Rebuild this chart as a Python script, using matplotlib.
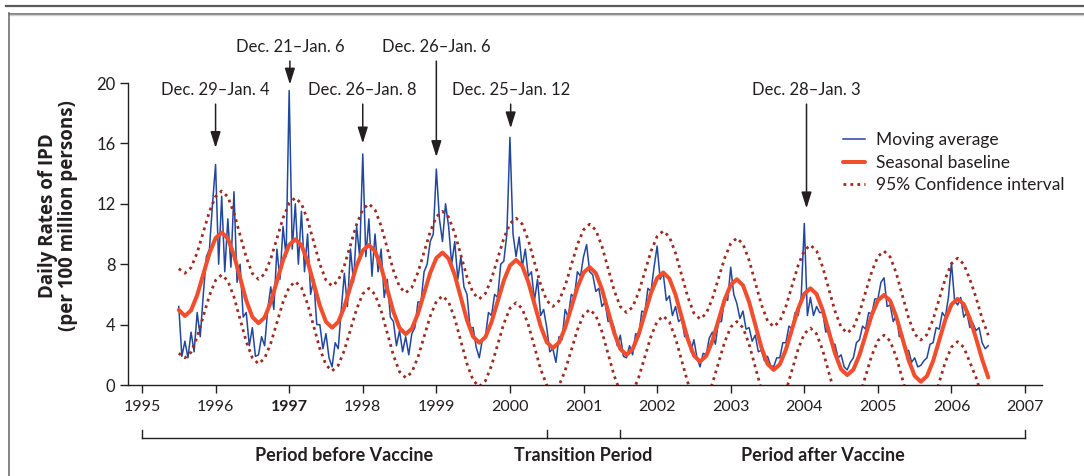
import numpy as np
import matplotlib
matplotlib.use("Agg")
import matplotlib.pyplot as plt
from matplotlib.lines import Line2D

# ---- palette ---------------------------------------------------------------
BLUE = "#22479e"
RED = "#f04e2c"
DOT = "#9d2b1f"
INK = "#231f20"

SANS = ["Lato", "DejaVu Sans"]
LABEL = ["Open Sans", "DejaVu Sans"]

# ---- data ------------------------------------------------------------------
# moving average, half-month readings, one row per season (Jul..Jun)
ma_1995 = [5.2, 1.9, 2.9, 1.8, 3.5, 2.2, 4.8, 3.2, 6.0, 8.5, 9.0, 12.0,
           14.6, 8.0, 12.5, 7.5, 11.0, 7.8, 12.8, 6.8, 8.0, 4.5, 4.8, 2.6]
ma_1996 = [3.8, 1.9, 2.0, 3.2, 2.6, 5.0, 6.5, 5.0, 9.0, 7.0, 10.5, 8.5,
           19.5, 9.0, 12.0, 8.0, 11.5, 7.5, 10.0, 6.0, 7.0, 4.0, 4.0, 2.4]
ma_1997 = [3.4, 1.8, 1.2, 2.8, 2.4, 5.0, 7.4, 5.2, 9.0, 6.8, 10.5, 8.5,
           15.3, 8.5, 11.0, 7.2, 10.0, 7.5, 9.0, 5.8, 7.0, 4.5, 4.2, 2.6]
ma_1998 = [3.6, 2.2, 3.2, 2.0, 3.4, 3.8, 5.5, 5.5, 7.5, 8.0, 9.5, 10.0,
           14.3, 11.0, 9.5, 12.0, 10.5, 8.0, 9.5, 7.0, 8.5, 6.5, 6.0, 3.8]
ma_1999 = [3.8, 2.5, 1.8, 3.0, 3.2, 4.8, 4.6, 6.0, 5.8, 8.0, 8.2, 10.0,
           16.4, 10.0, 8.5, 9.8, 7.8, 9.0, 7.2, 7.5, 5.6, 7.0, 4.6, 5.0]
ma_2000 = [3.8, 2.2, 2.4, 1.5, 3.2, 3.0, 5.0, 4.5, 6.0, 5.8, 7.5, 7.2,
           8.5, 9.3, 7.5, 7.3, 6.2, 6.4, 5.2, 5.5, 4.2, 4.3, 3.8, 2.6]
ma_2001 = [3.3, 1.9, 1.8, 2.6, 2.0, 3.4, 3.2, 4.9, 4.8, 6.4, 6.2, 7.8,
           9.2, 7.0, 7.4, 5.6, 5.9, 4.6, 5.2, 4.2, 4.4, 3.2, 3.3, 2.2]
ma_2002 = [3.0, 1.8, 1.2, 2.1, 2.0, 3.1, 3.5, 2.7, 4.2, 4.2, 5.8, 5.6,
           7.8, 6.0, 5.4, 4.4, 4.9, 3.7, 3.8, 2.9, 3.3, 2.2, 2.3, 1.6]
ma_2003 = [1.9, 1.3, 1.2, 1.8, 1.8, 2.8, 2.8, 3.9, 3.7, 4.8, 4.6, 5.9,
           10.7, 4.6, 5.8, 4.6, 5.2, 4.8, 4.8, 3.5, 3.8, 2.7, 2.7, 1.8]
ma_2004 = [2.0, 1.2, 1.0, 1.5, 1.8, 2.8, 3.0, 3.9, 3.7, 4.8, 4.7, 5.7,
           5.7, 6.8, 7.1, 5.2, 5.3, 4.2, 4.6, 3.2, 3.3, 2.2, 2.3, 1.5]
ma_2005 = [1.8, 1.2, 1.3, 1.6, 1.8, 2.7, 2.8, 3.8, 3.7, 4.8, 4.5, 5.8,
           8.1, 5.6, 5.3, 5.8, 4.5, 4.8, 3.8, 4.1, 3.6, 3.8, 2.8, 2.4]
ma_end = [2.6]

# seasonal baseline, monthly from Jul 1995 to Jul 2006
baseline = [4.97, 4.57, 4.94, 5.95, 7.34, 8.72,
            9.73, 10.1, 9.70, 8.6, 7.1, 5.6, 4.5, 4.1, 4.47, 5.49, 6.88, 8.26,
            9.28, 9.65, 9.26, 8.19, 6.73, 5.26, 4.19, 3.8, 4.17, 5.17, 6.54, 7.90,
            8.90, 9.27, 8.87, 7.8, 6.32, 4.85, 3.77, 3.37, 3.73, 4.72, 6.07, 7.42,
            8.41, 8.77, 8.37, 7.28, 5.79, 4.29, 3.2, 2.8, 3.17, 4.17, 5.54, 6.91,
            7.91, 8.28, 7.89, 6.82, 5.37, 3.91, 2.84, 2.45, 2.81, 3.79, 5.13, 6.46,
            7.44, 7.8, 7.41, 6.35, 4.9, 3.45, 2.39, 2.0, 2.37, 3.36, 4.73, 6.09,
            7.08, 7.45, 7.05, 5.98, 4.5, 3.03, 1.95, 1.55, 1.92, 2.91, 4.28, 5.64,
            6.63, 7.0, 6.6, 5.5, 4.0, 2.5, 1.4, 1.0, 1.36, 2.35, 3.7, 5.05,
            6.04, 6.4, 6.02, 4.96, 3.53, 2.1, 1.04, 0.66, 1.02, 1.99, 3.31, 4.64,
            5.6, 5.96, 5.58, 4.52, 3.09, 1.66, 0.6, 0.22, 0.59, 1.59, 2.96, 4.33,
            5.33, 5.7, 5.35, 4.4, 3.1, 1.7, 0.5]

ci_upper = [7.7, 7.4, 7.77, 8.76, 10.13, 11.49,
            12.48, 12.85, 12.46, 11.39, 9.93, 8.46, 7.39, 7.0, 7.36, 8.35, 9.7, 11.05,
            12.04, 12.4, 12.01, 10.94, 9.48, 8.01, 6.94, 6.55, 6.92, 7.91, 9.28, 10.64,
            11.63, 12.0, 11.6, 10.53, 9.05, 7.58, 6.5, 6.1, 6.46, 7.45, 8.8, 10.15,
            11.14, 11.5, 11.11, 10.05, 8.6, 7.15, 6.09, 5.7, 6.06, 7.04, 8.38, 9.71,
            10.69, 11.05, 10.66, 9.59, 8.13, 6.66, 5.59, 5.2, 5.57, 6.56, 7.93, 9.29,
            10.28, 10.65, 10.26, 9.19, 7.73, 6.26, 5.19, 4.8, 5.16, 6.15, 7.5, 8.85,
            9.84, 10.2, 9.81, 8.74, 7.29, 5.83, 4.76, 4.37, 4.73, 5.71, 7.05, 8.39,
            9.37, 9.73, 9.34, 8.26, 6.8, 5.33, 4.25, 3.86, 4.22, 5.21, 6.57, 7.92,
            8.91, 9.27, 8.88, 7.81, 6.36, 4.9, 3.83, 3.44, 3.8, 4.8, 6.16, 7.51,
            8.51, 8.87, 8.48, 7.4, 5.93, 4.45, 3.37, 2.98, 3.34, 4.34, 5.69, 7.05,
            8.04, 8.4, 8.0, 7.0, 5.8, 4.4, 3.3]

ci_lower = [2.1, 1.8, 2.17, 3.18, 4.55, 5.93,
            6.93, 7.3, 6.9, 5.83, 4.35, 2.88, 1.8, 1.4, 1.77, 2.76, 4.13, 5.49,
            6.48, 6.85, 6.45, 5.37, 3.89, 2.41, 1.33, 0.93, 1.3, 2.3, 3.67, 5.03,
            6.03, 6.4, 6.0, 4.92, 3.44, 1.96, 0.88, 0.48, 0.84, 1.84, 3.19, 4.55,
            5.54, 5.9, 5.5, 4.4, 2.9, 1.4, 0.3, -0.1, 0.27, 1.29, 2.68, 4.06,
            5.08, 5.45, 5.06, 3.99, 2.53, 1.06, -0.01, -0.4, -0.04, 0.95, 2.3, 3.65,
            4.64, 5.0, 4.61, 3.54, 2.08, 0.61, -0.46, -0.85, -0.49, 0.51, 1.86, 3.22,
            4.21, 4.57, 4.18, 3.1, 1.64, 0.17, -0.91, -1.3, -0.93, 0.08, 1.45, 2.83,
            3.83, 4.2, 3.8, 2.7, 1.2, -0.3, -1.4, -1.8, -1.43, -0.41, 0.99, 2.38,
            3.4, 3.77, 3.38, 2.3, 0.84, -0.63, -1.71, -2.1, -1.74, -0.75, 0.6, 1.95,
            2.94, 3.3, 2.91, 1.85, 0.4, -1.05, -2.11, -2.5, -2.14, -1.16, 0.19, 1.53,
            2.51, 2.87, 2.5, 1.5, 0.5, -0.8, -2.0]

years = list(range(1995, 2008))
yticks = [0, 4, 8, 12, 16, 20]

# holiday peaks
peak_labels = ["Dec. 29\u2013Jan. 4", "Dec. 21\u2013Jan. 6", "Dec. 26\u2013Jan. 8",
               "Dec. 26\u2013Jan. 6", "Dec. 25\u2013Jan. 12", "Dec. 28\u2013Jan. 3"]
peak_dates = [1996.0, 1997.01, 1998.0, 1999.0, 2000.01, 2004.03]
peak_tips = [15.7, 19.9, 16.0, 15.1, 17.0, 11.7]
peak_high = [False, True, False, True, False, False]

periods = ["Period before Vaccine", "Transition Period", "Period after Vaccine"]
period_edges = [1995.0, 2000.5, 2001.5, 2007.0]

# ---- figure ----------------------------------------------------------------
W, H = 1084, 476
fig = plt.figure(figsize=(W / 100, H / 100), dpi=100)
fig.patch.set_facecolor("white")
ax = fig.add_axes([128 / W, 1 - 385 / H, (1042 - 128) / W, (385 - 83) / H])

ma = np.array(ma_1995 + ma_1996 + ma_1997 + ma_1998 + ma_1999 + ma_2000 +
              ma_2001 + ma_2002 + ma_2003 + ma_2004 + ma_2005 + ma_end)
t_ma = 1995.5 + np.arange(len(ma)) / 24
t_mo = 1995.5 + np.arange(len(baseline)) / 12

ax.plot(t_ma, ma, color=BLUE, lw=1.1, zorder=2, label="Moving average")
ax.plot(t_mo, ci_upper, color=DOT, lw=2.0, ls=(0, (1, 1.5)), zorder=3,
        label="95% Confidence interval")
ax.plot(t_mo, ci_lower, color=DOT, lw=2.0, ls=(0, (1, 1.5)), zorder=3)
ax.plot(t_mo, baseline, color=RED, lw=2.9, zorder=4, solid_capstyle="round",
        label="Seasonal baseline")

ax.set_xlim(1994.81, 2007.23)
ax.set_ylim(0, 20)
for s in ("top", "right"):
    ax.spines[s].set_visible(False)
for s in ("left", "bottom"):
    ax.spines[s].set_color(INK)
    ax.spines[s].set_linewidth(1.0)

ax.set_xticks(years)
ax.set_xticklabels([str(y) for y in years], family=SANS, fontsize=11.5,
                   color=INK)
ax.get_xticklabels()[2].set_fontweight("bold")
ax.set_yticks(yticks)
ax.set_yticklabels([str(v) for v in yticks], family=SANS, fontsize=12,
                   color=INK)
ax.tick_params(axis="both", direction="out", length=6, width=1.0, color=INK)
ax.tick_params(axis="x", pad=5)
ax.tick_params(axis="y", pad=3)

# y label, placed by hand (sits above the axes centre)
fig.text(58 / W, 1 - 216 / H, "Daily Rates of IPD\n(per 100 million persons)",
         rotation=90, ha="center", va="center", fontsize=13.5, weight="bold",
         family=LABEL, color=INK, linespacing=1.05)

# holiday arrows
for lab, x, tip, high in zip(peak_labels, peak_dates, peak_tips, peak_high):
    ty = 22.4 if high else 19.55
    ax.text(x, ty, lab, ha="center", va="center", fontsize=12, family=SANS,
            color=INK, clip_on=False)
    ax.annotate("", xy=(x, tip), xytext=(x, ty - 0.95),
                arrowprops=dict(arrowstyle="-|>,head_length=0.7,head_width=0.22",
                                color=INK, lw=1.1, mutation_scale=14,
                                shrinkA=0, shrinkB=0),
                annotation_clip=False)

# period bracket under the axis
trans = ax.get_xaxis_transform()
y_bar, y_tick, y_lab = -0.1755, -0.149, -0.232
ax.plot([period_edges[0], period_edges[-1]], [y_bar, y_bar], color=INK,
        lw=1.0, transform=trans, clip_on=False)
for e in period_edges:
    ax.plot([e, e], [y_bar, y_tick], color=INK, lw=1.0, transform=trans,
            clip_on=False)
for i, name in enumerate(periods):
    mid = (period_edges[i] + period_edges[i + 1]) / 2
    ax.text(mid, y_lab, name, transform=trans, ha="center", va="center",
            fontsize=13, weight="bold", family=SANS, color=INK)

# legend
h, l = ax.get_legend_handles_labels()
order = [0, 2, 1]
leg = ax.legend([h[i] for i in order], [l[i] for i in order], loc="upper left",
                bbox_to_anchor=(0.782, 0.837), frameon=False, borderpad=0,
                borderaxespad=0, handlelength=1.3, handletextpad=0.6,
                labelspacing=0.38, prop=dict(family=SANS, size=12.5))
for txt in leg.get_texts():
    txt.set_color(INK)

# page frame (journal box)
def fline(x0, y0, x1, y1, color, lw):
    fig.add_artist(Line2D([x0 / W, x1 / W], [1 - y0 / H, 1 - y1 / H],
                          color=color, lw=lw, transform=fig.transFigure))

fline(6, 6, W, 6, "#5a5a5a", 1.6)
fline(9, 13.5, W, 13.5, "#6f6f6f", 1.2)
fline(9, 15, W, 15, "#cfcfcf", 1.0)
fline(9, 13, 9, H, "#6f6f6f", 1.2)

fig.savefig("out.png", dpi=100, facecolor="white")
